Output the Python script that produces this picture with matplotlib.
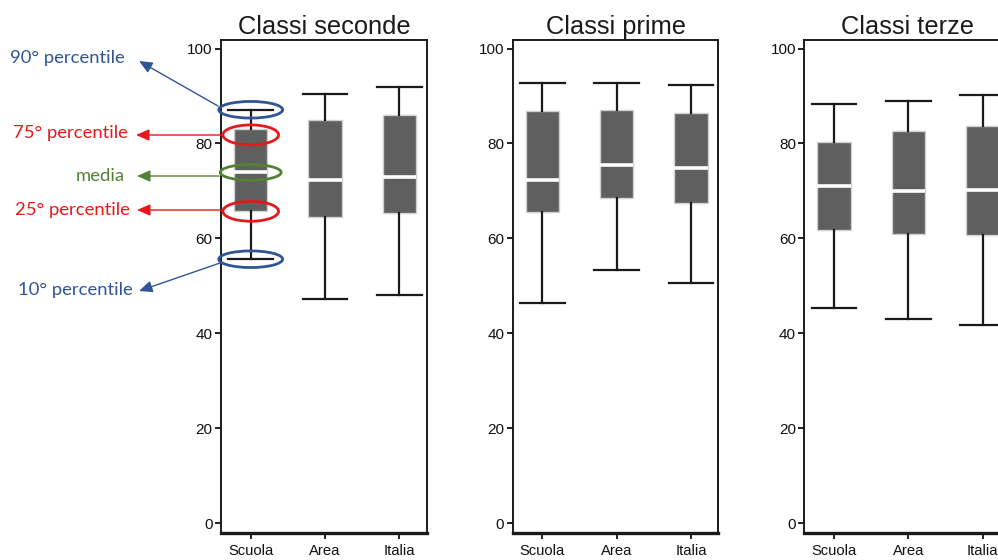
import matplotlib
matplotlib.use('Agg')
import matplotlib.pyplot as plt
from matplotlib.patches import Ellipse

plt.rcParams['font.family'] = ['Liberation Sans', 'DejaVu Sans']

titles = ['Classi seconde', 'Classi prime', 'Classi terze']
categories = ['Scuola', 'Area', 'Italia']

# percentili (una riga per pannello, Scuola / Area / Italia)
p10 = [[55.6, 47.3, 48.0], [46.3, 53.3, 50.5], [45.4, 43.1, 41.7]]
p25 = [[65.7, 64.4, 65.4], [65.6, 68.5, 67.5], [61.8, 60.9, 60.7]]
media = [[73.9, 72.2, 72.9], [72.2, 75.4, 74.8], [71.0, 69.9, 70.1]]
p75 = [[83.0, 84.9, 85.9], [86.8, 87.1, 86.4], [80.3, 82.6, 83.6]]
p90 = [[87.1, 90.5, 91.8], [92.7, 92.7, 92.4], [88.3, 88.9, 90.2]]

W, H = 998, 560
fig = plt.figure(figsize=(W / 100, H / 100), dpi=100)

lefts = [221, 512.7, 804.3]
axes = []
for k in range(3):
    ax = fig.add_axes([lefts[k] / W, (H - 533) / H, 205.7 / W, (533 - 40) / H])
    stats = []
    for j in range(3):
        stats.append(dict(whislo=p10[k][j], q1=p25[k][j], med=media[k][j],
                          q3=p75[k][j], whishi=p90[k][j], fliers=[], label=categories[j]))
    ax.bxp(stats, positions=[1, 2, 3], widths=0.45, patch_artist=True,
           showfliers=False,
           boxprops=dict(facecolor='#5f5f5f', edgecolor='#cfcfcf', linewidth=1),
           medianprops=dict(color='white', linewidth=2.6),
           whiskerprops=dict(color='#1a1a1a', linewidth=1.6),
           capprops=dict(color='#1a1a1a', linewidth=1.6),
           capwidths=0.6)
    ax.set_xlim(0.6, 3.37)
    ax.set_ylim(-2.1, 101.8)
    ax.set_yticks([0, 20, 40, 60, 80, 100])
    ax.set_title(titles[k], fontsize=18.3, pad=4, color='#1a1a1a')
    ax.tick_params(axis='y', length=4, width=1.3, pad=2, labelsize=11, colors='#111111')
    ax.tick_params(axis='x', length=4, width=1.3, pad=4, labelsize=10.6, colors='#111111')
    for s in ax.spines.values():
        s.set_linewidth(1.4)
        s.set_color('#1a1a1a')
    ax.spines['bottom'].set_linewidth(2.4)
    axes.append(ax)

ax1 = axes[0]
blue = '#2f5597'
red = '#e8181a'
green = '#548235'

# ellissi e frecce della legenda sul box "Scuola" delle classi seconde
legend_items = [
    ('90° percentile', p90[0][0], blue, 0.86, 3.5, (218, 106), (139, 61), 125, 58),
    ('75° percentile', p75[0][0] - 1.2, red, 0.75, 4.2, (223, 135), (136, 135), 128, 133),
    ('media', media[0][0], green, 0.82, 3.3, (219, 176), (137, 176), 125, 176),
    ('25° percentile', p25[0][0], red, 0.75, 4.2, (223, 210), (137, 210), 130, 210),
    ('10° percentile', p10[0][0], blue, 0.86, 3.5, (220, 263), (139, 291), 133, 290),
]
for text, yv, col, ew, eh, start, tip, tx, ty in legend_items:
    e = Ellipse((1.0, yv), ew, eh, fill=False, edgecolor=col, linewidth=2,
                transform=ax1.transData, clip_on=False, zorder=5)
    ax1.add_patch(e)
    fig.text(tx / W, 1 - ty / H, text, color=col, fontsize=13.3, ha='right', va='center',
             family=['Lato', 'DejaVu Sans'])
    ax1.annotate('', xy=(tip[0], H - tip[1]), xycoords='figure pixels',
                 xytext=(start[0], H - start[1]), textcoords='figure pixels',
                 arrowprops=dict(arrowstyle='-|>,head_length=0.8,head_width=0.35',
                                 color=col, lw=1, shrinkA=0, shrinkB=0),
                 annotation_clip=False)

fig.savefig('out.png', dpi=100)
